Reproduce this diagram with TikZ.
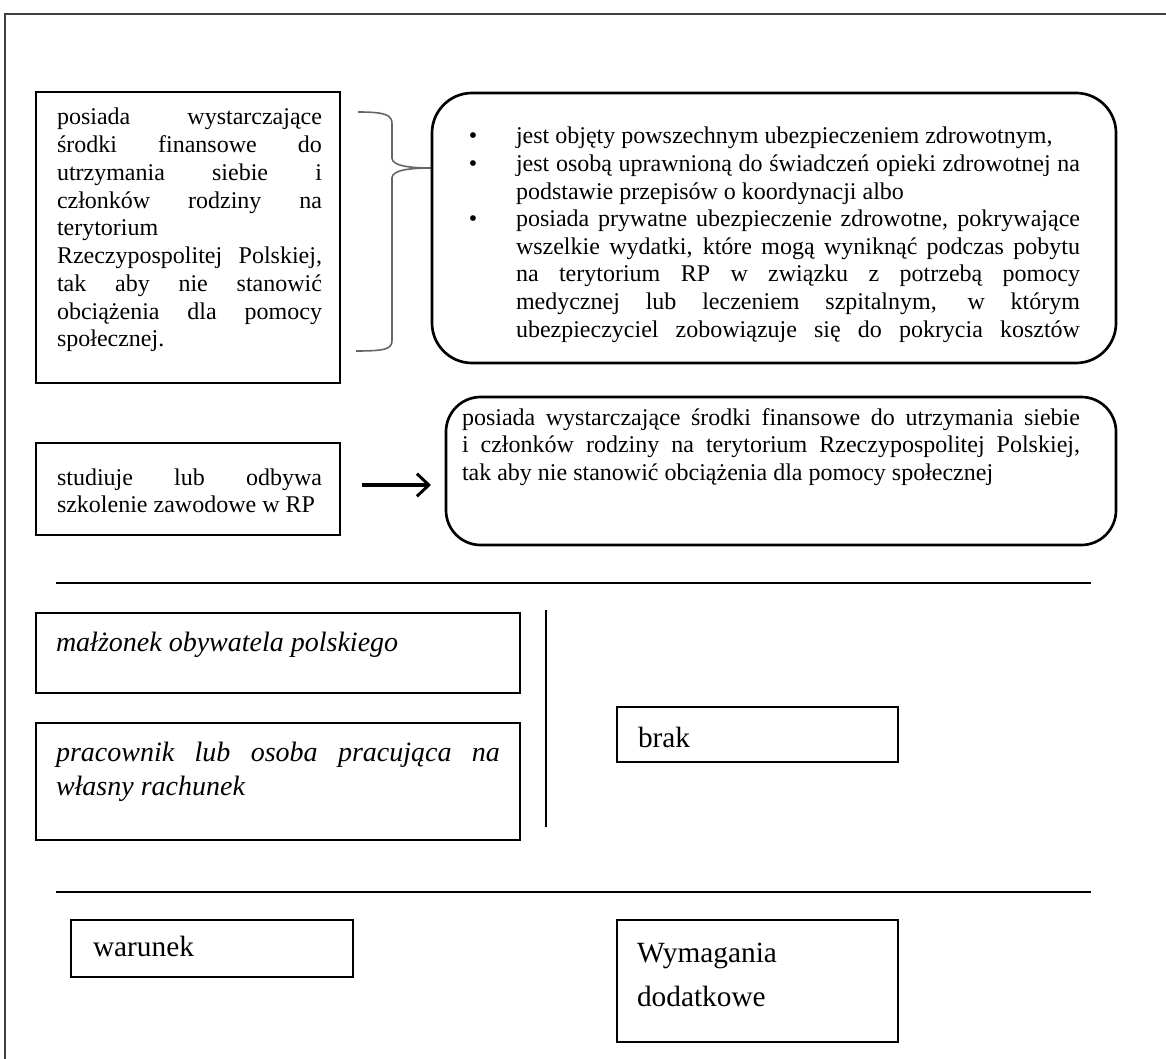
\documentclass[tikz,border=0pt]{standalone}
\usepackage{fontspec}
\setmainfont{Liberation Serif}
\usetikzlibrary{arrows.meta,fit}
\newcommand{\jline}[1]{\makebox[\linewidth][s]{#1}\par}
\newcommand{\pline}[1]{\makebox[\linewidth][l]{#1}\par}
\newcommand{\bul}{\llap{\textbullet\hspace{29pt}}}
\begin{document}
\begin{tikzpicture}[x=0.75pt,y=-0.75pt,
  box/.style={draw, line width=1.5pt, inner sep=0pt},
  rbox/.style={draw, line width=2pt, inner sep=0pt},
  textblock/.style={anchor=base west, inner sep=0pt, outer sep=0pt},
  frameline/.style={draw=black!75, line width=1.4pt},
  hline/.style={line width=2.2pt},
  vline/.style={line width=1.5pt},
  brace/.style={draw=black!60, line width=1.2pt},
  arrowline/.style={line width=2.4pt, -{Straight Barb[length=9pt,width=17pt,line width=2.2pt]}}
]
\useasboundingbox (0,0) rectangle (1166,1059);
\fill[white] (0,0) rectangle (1166,1059);
% frame
\draw[frameline] (4,14) -- (1166,14);
\draw[frameline] (5,14) -- (5,1059);

% top-left box
\node[box, fit={(36,92) (340,383)}] (boxA) {};
\node[textblock] (txtA) at (57,125) {\parbox[t]{198.75pt}{\fontsize{18}{20.8}\selectfont
\jline{posiada wystarczające}
\jline{środki finansowe do}
\jline{utrzymania siebie i}
\jline{członków rodziny na}
\pline{terytorium}
\jline{Rzeczypospolitej Polskiej,}
\jline{tak aby nie stanowić}
\jline{obciążenia dla pomocy}
\pline{społecznej.}}};

% brace
\coordinate (brTip) at (432,168);
\draw[brace] (358,112) .. controls (386,112) and (392,115) .. (392,124) -- (392,158)
  .. controls (392,166) and (410,168) .. (brTip)
  .. controls (410,168) and (392,170) .. (392,178) -- (392,340)
  .. controls (392,349) and (386,351) .. (356,351);

% top-right rounded box
\node[rbox, rounded corners=30pt, fit={(432,93) (1116,363)}] (boxB) {};
\node[textblock] (txtB) at (516,144) {\parbox[t]{423pt}{\fontsize{18}{20.7}\selectfont
\pline{\bul jest objęty powszechnym ubezpieczeniem zdrowotnym,}
\jline{\bul jest osobą uprawnioną do świadczeń opieki zdrowotnej na}
\pline{podstawie przepisów o koordynacji albo}
\jline{\bul posiada prywatne ubezpieczenie zdrowotne, pokrywające}
\jline{wszelkie wydatki, które mogą wyniknąć podczas pobytu}
\jline{na terytorium RP w związku z potrzebą pomocy}
\jline{medycznej lub leczeniem szpitalnym, w którym}
\jline{ubezpieczyciel zobowiązuje się do pokrycia kosztów}}};

% second row
\node[box, fit={(36,443) (340,535)}] (boxC) {};
\node[textblock] (txtC) at (57,485) {\parbox[t]{198.75pt}{\fontsize{18}{20.8}\selectfont
\jline{studiuje lub odbywa}
\pline{szkolenie zawodowe w RP}}};

\node[rbox, rounded corners=26pt, fit={(446,397) (1116,545)}] (boxD) {};
\node[textblock] (txtD) at (462,425) {\parbox[t]{463.5pt}{\fontsize{18}{20.7}\selectfont
\jline{posiada wystarczające środki finansowe do utrzymania siebie}
\jline{i członków rodziny na terytorium Rzeczypospolitej Polskiej,}
\pline{tak aby nie stanowić obciążenia dla pomocy społecznej}}};

\coordinate (arrS) at (362,485);
\coordinate (arrE) at (431,485);
\draw[arrowline] (arrS) -- (arrE);

% separator lines
\draw[hline] (56,583) -- (1091,583);
\draw[hline] (56,892) -- (1091,892);
\draw[vline] (546,610) -- (546,827);

% third row
\node[box, fit={(36,613) (520,693)}] (boxE) {};
\node[textblock] (txtE) at (56,651) {\fontsize{21}{25.5}\selectfont\itshape małżonek obywatela polskiego};

\node[box, fit={(36,723) (520,840)}] (boxF) {};
\node[textblock] (txtF) at (56,761) {\parbox[t]{333pt}{\fontsize{21}{25.5}\selectfont\itshape
\jline{pracownik lub osoba pracująca na}
\pline{własny rachunek}}};

\node[box, fit={(617,707) (898,762)}] (boxG) {};
\node[textblock] (txtG) at (638,747) {\fontsize{22}{26}\selectfont brak};

% bottom row
\node[box, fit={(71,920) (353,977)}] (boxH) {};
\node[textblock] (txtH) at (93,956) {\fontsize{22}{26}\selectfont warunek};

\node[box, fit={(617,920) (898,1042)}] (boxI) {};
\node[textblock] (txtI) at (637,962) {\parbox[t]{200pt}{\fontsize{22}{33}\selectfont
Wymagania\par
dodatkowe}};
\end{tikzpicture}
\end{document}
